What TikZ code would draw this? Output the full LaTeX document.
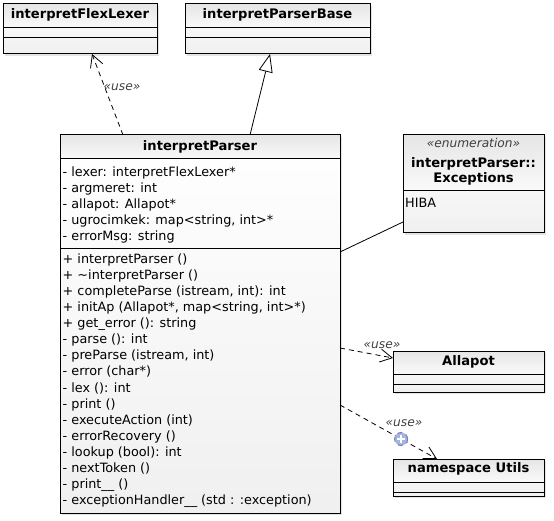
\documentclass[tikz,border=0pt]{standalone}
\usepackage{fontspec}
\setmainfont{DejaVu Sans}
\usetikzlibrary{arrows.meta,shadows,calc}
\definecolor{iconfill}{HTML}{A8B4E0}
\definecolor{iconline}{HTML}{7080C8}
\tikzset{
  box/.style={draw=black, line width=1pt, inner sep=0pt, outer sep=0pt, anchor=north west,
    top color=white, bottom color=gray!12,
    drop shadow={opacity=0.22, shadow xshift=2pt, shadow yshift=-2pt}},
  headfill/.style={top color=gray!20, bottom color=gray!4},
  divider/.style={draw=black, line width=1pt},
  frame/.style={draw=black, line width=1pt},
  title/.style={font=\fontsize{13.1}{15}\selectfont\bfseries, inner sep=0pt, anchor=base},
  member/.style={font=\fontsize{12.8}{15}\selectfont, inner sep=0pt, anchor=base west},
  stereo/.style={font=\fontsize{12.2}{15}\selectfont\itshape, inner sep=0pt, anchor=base, text=black!75},
  dep/.style={draw=black, line width=0.8pt, dash pattern=on 5pt off 4pt,
    -{Straight Barb[length=12pt, width=13pt, line width=0.8pt]}},
  gen/.style={draw=black, line width=0.8pt,
    -{Triangle[open, length=18pt, width=14pt, line width=0.8pt, fill=white]}},
  assoc/.style={draw=black, line width=0.8pt},
  plusicon/.style={circle, draw=iconline, fill=iconfill, line width=1pt, minimum size=13pt, inner sep=0pt}
}
\begin{document}
\begin{tikzpicture}[x=1pt, y=-1pt]
\useasboundingbox (0,0) rectangle (554,521);

% ---- interpretFlexLexer
\node[box, minimum width=154pt, minimum height=50pt] (FL) at (3,4) {};
\fill[headfill] (FL.north west) rectangle ([yshift=-24pt]FL.north east);
\draw[divider] ([yshift=-24pt]FL.north west) -- ([yshift=-24pt]FL.north east);
\draw[divider] ([yshift=-34pt]FL.north west) -- ([yshift=-34pt]FL.north east);
\draw[frame] (FL.north west) rectangle (FL.south east);
\node[title] (FLt) at (80,19) {interpretFlexLexer};

% ---- interpretParserBase
\node[box, minimum width=185pt, minimum height=50pt] (PB) at (185,4) {};
\fill[headfill] (PB.north west) rectangle ([yshift=-24pt]PB.north east);
\draw[divider] ([yshift=-24pt]PB.north west) -- ([yshift=-24pt]PB.north east);
\draw[divider] ([yshift=-34pt]PB.north west) -- ([yshift=-34pt]PB.north east);
\draw[frame] (PB.north west) rectangle (PB.south east);
\node[title] (PBt) at (277.5,19) {interpretParserBase};

% ---- interpretParser
\node[box, minimum width=280pt, minimum height=378pt] (IP) at (60,135) {};
\fill[headfill] (IP.north west) rectangle ([yshift=-24pt]IP.north east);
\draw[divider] ([yshift=-24pt]IP.north west) -- ([yshift=-24pt]IP.north east);
\draw[divider] ([yshift=-114pt]IP.north west) -- ([yshift=-114pt]IP.north east);
\draw[frame] (IP.north west) rectangle (IP.south east);
\node[title] (IPt) at (200,150.5) {interpretParser};
\foreach \t [count=\i] in {
  {- lexer: interpretFlexLexer*},
  {- argmeret: int},
  {- allapot: Allapot*},
  {{- ugrocimkek: map<string, int>*}},
  {- errorMsg: string}}
  \node[member] (ipa\i) at (62.5,{176.3+16.1*(\i-1)}) {\t};
\foreach \t [count=\i] in {
  {+ interpretParser ()},
  {+ \textasciitilde interpretParser ()},
  {{+ completeParse (istream, int): int}},
  {{+ initAp (Allapot*, map<string, int>*)}},
  {+ get\_error (): string},
  {- parse (): int},
  {{- preParse (istream, int)}},
  {- error (char*)},
  {- lex (): int},
  {- print ()},
  {- executeAction (int)},
  {- errorRecovery ()},
  {- lookup (bool): int},
  {- nextToken ()},
  {- print\_\_ ()},
  {- exceptionHandler\_\_ (std : :exception)}}
  \node[member] (ipo\i) at (62.5,{263.2+16.1*(\i-1)}) {\t};

% ---- interpretParser::Exceptions
\node[box, minimum width=141pt, minimum height=98pt] (EX) at (403,135) {};
\fill[headfill] (EX.north west) rectangle ([yshift=-56pt]EX.north east);
\draw[divider] ([yshift=-56pt]EX.north west) -- ([yshift=-56pt]EX.north east);
\draw[frame] (EX.north west) rectangle (EX.south east);
\node[stereo] (EXs) at (473.5,148) {«enumeration»};
\node[title] (EXt1) at (473.5,167.5) {interpretParser::};
\node[title] (EXt2) at (473.5,182.5) {Exceptions};
\node[member] (EXh) at (405,208) {HIBA};

% ---- Allapot
\node[box, minimum width=151pt, minimum height=41pt] (AL) at (393,351) {};
\fill[headfill] (AL.north west) rectangle ([yshift=-23pt]AL.north east);
\draw[divider] ([yshift=-23pt]AL.north west) -- ([yshift=-23pt]AL.north east);
\draw[divider] ([yshift=-33pt]AL.north west) -- ([yshift=-33pt]AL.north east);
\draw[frame] (AL.north west) rectangle (AL.south east);
\node[title] (ALt) at (468.5,365) {Allapot};

% ---- namespace Utils
\node[box, minimum width=151pt, minimum height=37pt] (NU) at (393,459) {};
\fill[headfill] (NU.north west) rectangle ([yshift=-23pt]NU.north east);
\draw[divider] ([yshift=-23pt]NU.north west) -- ([yshift=-23pt]NU.north east);
\draw[divider] ([yshift=-33pt]NU.north west) -- ([yshift=-33pt]NU.north east);
\draw[frame] (NU.north west) rectangle (NU.south east);
\node[title] (NUt) at (468.5,472.5) {namespace Utils};

% ---- connectors
\draw[dep] ([xshift=63pt]IP.north west) -- ([xshift=89pt]FL.south west);
\node[stereo] (u1) at (122,90.5) {«use»};
\draw[gen] ([xshift=190pt]IP.north west) -- ([xshift=85pt]PB.south west);
\draw[assoc] ([yshift=-117pt]IP.north east) -- ([yshift=-87pt]EX.north west);
\draw[dep] ([yshift=-213pt]IP.north east) -- ([yshift=-7pt]AL.north west);
\node[stereo] (u2) at (382,348.5) {«use»};
\draw[dep] ([yshift=-270pt]IP.north east) -- node[pos=0.63, plusicon] (ic) {} ([xshift=44pt]NU.north west);
\draw[white, line width=1.8pt] ([xshift=-3.8pt]ic.center) -- ([xshift=3.8pt]ic.center);
\draw[white, line width=1.8pt] ([yshift=-3.8pt]ic.center) -- ([yshift=3.8pt]ic.center);
\node[stereo] (u3) at (404,426.5) {«use»};
\end{tikzpicture}
\end{document}
